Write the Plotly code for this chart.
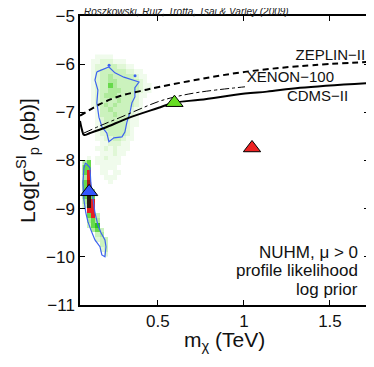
import plotly.graph_objects as go

# profile likelihood map: one string per row (top row at -5.85),
# one digit per cell. 0 = empty, 1..6 greens (pale -> strong), 7 red, 8 dark red, 9 near black
like_rows = [
    "0001111000000000",
    "0011222111000000",
    "0012223322110000",
    "0012333333221100",
    "0012334333332110",
    "0012334433333210",
    "0012335433333211",
    "0012334443333211",
    "0012344433332110",
    "0012333343332100",
    "0012343433332100",
    "0001334333321100",
    "0001333433321000",
    "0001233333211000",
    "0001233333211000",
    "0001233333210000",
    "0001223333210000",
    "0001122332110000",
    "0000112221100000",
    "0001121211100000",
    "0000111211000000",
    "0101121110000000",
    "4501111110000000",
    "5500111100000000",
    "5700110110000000",
    "4700011100000000",
    "5800001000000000",
    "5800000000000000",
    "5840000000000000",
    "5950000000000000",
    "4970000000000000",
    "3970000000000000",
    "0770000000000000",
    "0573000000000000",
    "0454000000000000",
    "0356000000000000",
    "0045300000000000",
    "0003400000000000",
    "0002330000000000",
    "0000330000000000",
    "0000230000000000",
    "0000020000000000",
]
like_x0, like_dx = 0.074, 0.025   # TeV, first column centre and width
like_y0, like_dy = -5.85, -0.1    # log sigma, first row centre and step
level_colors = ["#f0fbec", "#e0f7d6", "#cbf2bd", "#afea9c", "#66d94a",
                "#2fc41c", "#e62020", "#a41a12", "#2a1a14"]

# 68% contours (blue)
upper_cont_x = [0.145, 0.215, 0.25, 0.302, 0.39, 0.366, 0.366, 0.349, 0.337, 0.32, 0.308,
                0.291, 0.244, 0.215, 0.203, 0.174, 0.157, 0.145, 0.151, 0.134, 0.145]
upper_cont_y = [-6.16, -6.06, -6.18, -6.27, -6.37, -6.49, -6.68, -6.80, -7.01, -7.20, -7.41,
                -7.51, -7.53, -7.61, -7.43, -7.30, -7.10, -6.80, -6.54, -6.33, -6.16]
lower_cont_x = [0.079, 0.105, 0.11, 0.122, 0.134, 0.151, 0.169, 0.192, 0.198, 0.192, 0.174,
                0.163, 0.134, 0.11, 0.093, 0.081, 0.07, 0.064, 0.07, 0.079]
lower_cont_y = [-8.05, -8.15, -8.46, -8.76, -9.09, -9.34, -9.50, -9.65, -9.79, -10.0, -9.96,
                -9.79, -9.65, -9.44, -9.27, -9.09, -8.82, -8.46, -8.15, -8.05]
speck_x = [0.216, 0.367]
speck_y = [-6.02, -6.24]

# experimental limits
zeplin_m = [0.047, 0.163, 0.280, 0.396, 0.512, 0.745, 1.006, 1.326, 1.733]
zeplin_s = [-7.07, -6.83, -6.66, -6.56, -6.47, -6.31, -6.16, -6.04, -5.95]
xenon_m = [0.070, 0.163, 0.285, 0.396, 0.500, 0.599, 0.745, 1.006]
xenon_s = [-7.43, -7.28, -7.10, -6.93, -6.78, -6.68, -6.58, -6.47]
cdms_m = [0.047, 0.059, 0.070, 0.105, 0.192, 0.326, 0.500, 0.594, 0.745, 1.006, 1.134, 1.326, 1.733]
cdms_s = [-7.18, -7.37, -7.47, -7.43, -7.32, -7.12, -6.91, -6.80, -6.74, -6.61, -6.57, -6.49, -6.39]

# points
pt_m = [0.100, 0.596, 1.047]
pt_s = [-8.65, -6.80, -7.74]
pt_col = ["#3355ff", "#66dd22", "#ee2222"]

ncol = len(like_rows[0])
z = [[int(c) if c != "0" else None for c in row] for row in like_rows]
xc = [like_x0 + like_dx * i for i in range(ncol)]
yc = [like_y0 + like_dy * j for j in range(len(like_rows))]

cs = []
n = len(level_colors)
for k, c in enumerate(level_colors):
    cs.append([k / n, c])
    cs.append([(k + 1) / n, c])

fig = go.Figure()

fig.add_trace(go.Heatmap(x=xc, y=yc, z=z, zmin=0.5, zmax=9.5, colorscale=cs,
                         showscale=False, hoverinfo="skip"))

for cx, cy in [(upper_cont_x, upper_cont_y), (lower_cont_x, lower_cont_y)]:
    fig.add_trace(go.Scatter(x=cx, y=cy, mode="lines",
                             line=dict(color="#3d62f0", width=1.2), hoverinfo="skip"))
fig.add_trace(go.Scatter(x=speck_x, y=speck_y, mode="markers",
                         marker=dict(color="#3d62f0", size=3), hoverinfo="skip"))

fig.add_trace(go.Scatter(x=zeplin_m, y=zeplin_s, mode="lines",
                         line=dict(color="black", width=2, dash="6px,4px"), line_shape="spline"))
fig.add_trace(go.Scatter(x=xenon_m, y=xenon_s, mode="lines",
                         line=dict(color="black", width=1, dash="dashdot"), line_shape="spline"))
fig.add_trace(go.Scatter(x=cdms_m, y=cdms_s, mode="lines",
                         line=dict(color="black", width=2), line_shape="spline"))

fig.add_trace(go.Scatter(x=pt_m, y=pt_s, mode="markers",
                         marker=dict(symbol="triangle-up", size=15, color=pt_col,
                                     line=dict(color="black", width=1))))

# curve labels (text trace so ZEPLIN-III gets clipped at the frame like the original)
fig.add_trace(go.Scatter(x=[1.30, 1.017, 1.25], y=[-5.84, -6.29, -6.69], mode="text",
                         text=["ZEPLIN\u2212III", "XENON\u2212100", "CDMS\u2212II"],
                         textposition="middle right", cliponaxis=True,
                         textfont=dict(size=15, color="#111", family="Liberation Sans, Arial")))

for txt, yy in [("NUHM, \u03bc > 0", 0.183), ("profile likelihood", 0.121), ("log prior", 0.052)]:
    fig.add_annotation(text=txt, xref="paper", yref="paper", x=0.968, y=yy,
                       xanchor="right", yanchor="middle", showarrow=False,
                       font=dict(size=17, color="#111"))

fig.add_annotation(text="<i>Roszkowski, Ruiz, Trotta, Tsai &amp; Varley (2009)</i>",
                   xref="paper", yref="paper", x=0.007, y=1.0, xanchor="left", yanchor="bottom",
                   yshift=-3, showarrow=False, font=dict(size=10, color="#222"))

# x title as annotation so it sits where the original has it
fig.add_annotation(text="m<sub>\u03c7</sub> (TeV)", xref="paper", yref="paper", x=0.5, y=-0.126,
                   xanchor="center", yanchor="middle", showarrow=False,
                   font=dict(size=21, color="#111"))

fig.update_xaxes(range=[0.047, 1.727], tickvals=[0.5, 1, 1.5], ticktext=["0.5", "1", "1.5"],
                 ticks="inside", ticklen=5, tickwidth=1, tickcolor="black",
                 showline=True, linecolor="black", linewidth=1.5, mirror="ticks",
                 showgrid=False, zeroline=False, tickfont=dict(size=17), automargin=False)
fig.update_yaxes(range=[-11, -5], tickvals=[-5, -6, -7, -8, -9, -10, -11],
                 ticks="inside", ticklen=5, tickwidth=1, tickcolor="black",
                 showline=True, linecolor="black", linewidth=1.5, mirror="ticks",
                 showgrid=False, zeroline=False, tickfont=dict(size=17), automargin=False,
                 ticklabeloverflow="allow",
                 title=dict(text="Log[\u03c3<sup>SI</sup><sub>p</sub> (pb)]", font=dict(size=21), standoff=5))

# page body adds 8px at top/left, margins are shifted to compensate
fig.update_layout(
    width=374, height=367,
    margin=dict(l=72, r=13, t=8, b=70),
    paper_bgcolor="white", plot_bgcolor="white",
    font=dict(family="Liberation Sans, Arial, sans-serif", color="#111"),
    showlegend=False,
)

fig.write_html("out.html")
